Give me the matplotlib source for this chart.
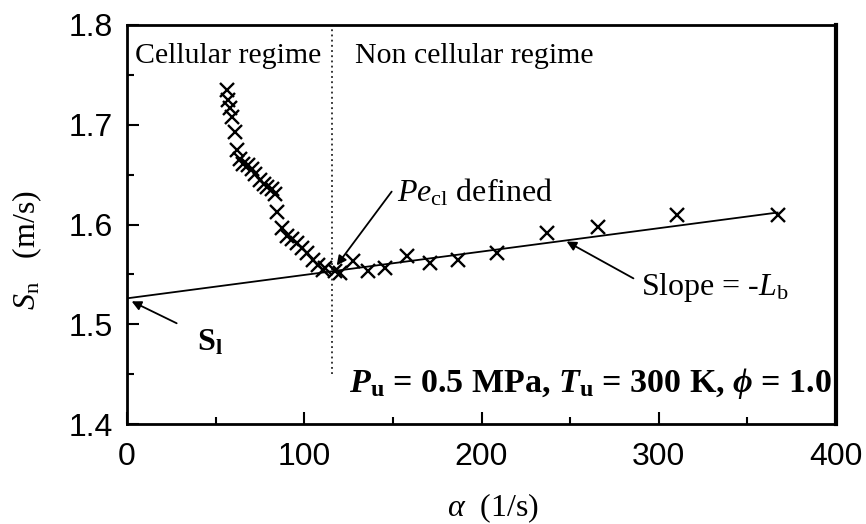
import matplotlib.pyplot as plt
from matplotlib.ticker import MultipleLocator

plt.rcParams['font.family'] = 'Liberation Serif'
plt.rcParams['mathtext.fontset'] = 'custom'
plt.rcParams['mathtext.rm'] = 'Liberation Serif'
plt.rcParams['mathtext.it'] = 'Liberation Serif:italic'
plt.rcParams['mathtext.bf'] = 'Liberation Serif:bold'
plt.rcParams['mathtext.bfit'] = 'Liberation Serif:italic:bold'

# measured stretch rate and flame speed
alpha = [56.2, 57.2, 58.1, 59.1, 60.9, 61.9, 63.8, 65.6, 68.4, 70.4,
         72.2, 75.0, 77.0, 78.8, 81.6, 83.5, 84.4, 87.3, 90.1, 92.9,
         95.7, 98.6, 101.4, 105.1, 107.9, 110.8, 111.7, 117.3, 120.2, 127.7,
         136.2, 145.6, 157.8, 170.9, 186.9, 208.6, 236.8, 265.9, 310.1, 367.4]
sn = [1.735, 1.725, 1.717, 1.708, 1.693, 1.675, 1.666, 1.661, 1.660, 1.656,
      1.651, 1.645, 1.641, 1.638, 1.636, 1.631, 1.613, 1.596, 1.588, 1.585,
      1.581, 1.576, 1.571, 1.564, 1.559, 1.554, 1.556, 1.553, 1.551, 1.563,
      1.553, 1.556, 1.568, 1.561, 1.564, 1.571, 1.591, 1.598, 1.610, 1.610]

# linear fit through the non cellular points
fit_x = [0, 367]
fit_y = [1.526, 1.612]

pe_cl = 115.5

fig = plt.figure(figsize=(8.66, 5.24), dpi=100)
ax = fig.add_axes([0.1467, 0.1908, 0.8187, 0.7615])

ax.plot(fit_x, fit_y, 'k', linewidth=1.3)
ax.plot(alpha, sn, 'kx', markersize=9.5, markeredgewidth=1.7)
ax.plot([pe_cl, pe_cl], [1.45, 1.8], 'k', linestyle=(0, (1.2, 2.2)), linewidth=1.1)

ax.set_xlim(0, 400)
ax.set_ylim(1.4, 1.8)
ax.xaxis.set_major_locator(MultipleLocator(100))
ax.xaxis.set_minor_locator(MultipleLocator(50))
ax.yaxis.set_major_locator(MultipleLocator(0.1))
ax.yaxis.set_minor_locator(MultipleLocator(0.05))
ax.tick_params(which='both', direction='in', width=1.5, labelsize=23,
               labelfontfamily='Liberation Sans', top=False, right=False)
ax.tick_params(which='major', length=8.5)
ax.tick_params(which='minor', length=5)
ax.tick_params(axis='x', pad=13)
ax.tick_params(axis='y', pad=10)
for s in ['left', 'bottom', 'top']:
    ax.spines[s].set_linewidth(2)
ax.spines['right'].set_linewidth(3)

ax.set_xlabel(r'$\alpha$  (1/s)', fontsize=23)
ax.xaxis.set_label_coords(0.516, -0.168)
ax.set_ylabel(r'$S_{\rm n}$   (m/s)', fontsize=23)
ax.yaxis.set_label_coords(-0.117, 0.437)

ax.text(4.5, 1.762, 'Cellular regime', fontsize=21.5)
ax.text(128.6, 1.762, 'Non cellular regime', fontsize=21.5)

arrow = dict(arrowstyle='-|>', color='k', lw=1.3, mutation_scale=14,
             shrinkA=0, shrinkB=0)
ax.annotate('', xy=(118.3, 1.559), xytext=(149.3, 1.633), arrowprops=arrow)
ax.text(152.3, 1.6226, r'$Pe_{\rm cl}$ defined', fontsize=23, va='baseline')

ax.annotate('', xy=(248, 1.583), xytext=(285.7, 1.546), arrowprops=arrow)
ax.text(290.2, 1.5293, r'Slope = -$L_{\rm b}$', fontsize=23, va='baseline')

ax.annotate('', xy=(2.6, 1.523), xytext=(28, 1.501), arrowprops=arrow)
ax.text(39.5, 1.4742, r'$\mathbf{S}_{\mathbf{l}}$', fontsize=23, va='baseline')

ax.text(397.5, 1.432,
        r'$\mathbfit{P}_{\mathbf{u}}$ = 0.5 MPa, '
        r'$\mathbfit{T}_{\mathbf{u}}$ = 300 K, '
        r'$\mathbfit{\phi}$ = 1.0',
        fontsize=24.5, fontweight='bold', ha='right', va='baseline')

fig.savefig('out.png', dpi=100)
